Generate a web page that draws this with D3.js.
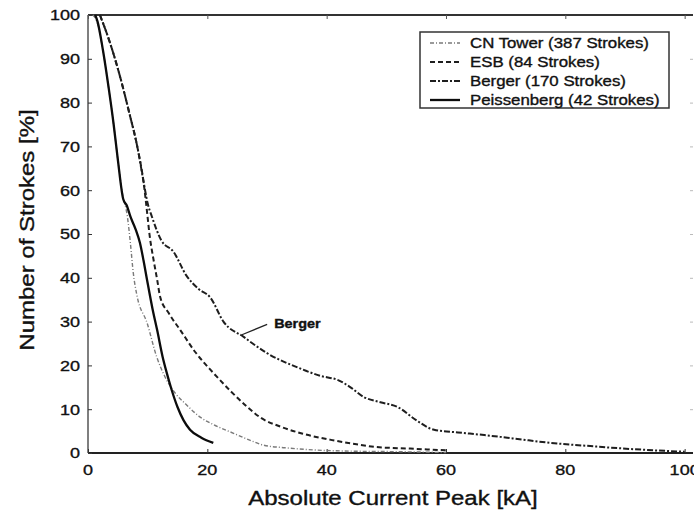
<!DOCTYPE html>
<html lang="en">
<head>
<meta charset="utf-8">
<script src="https://d3js.org/d3.v7.min.js"></script>
<style>
  body { margin: 0; background: #fff; }
  text { font-family: "Liberation Sans", Arial, sans-serif; fill: #111; stroke: #111; stroke-width: 0.35px; }
</style>
</head>
<body>
<script>
// values: [current kA, strokes %]
const cnTower = [[0.8,100],[1.5,98.5],[2.5,92],[3.5,83],[4.3,75],[5,67],[5.8,59],[6.6,54],[7.1,48],[7.6,41],[8.2,36],
  [9.9,29.7],[11.5,22],[12.9,17.4],[14.6,13.7],[16.5,11],[18.8,8.2],[21,6.5],[24.4,4.5],[27,3],[29.4,1.8],
  [33,1.2],[37.8,0.7],[45,0.4],[52,0.3],[60,0.1]];
const esb = [[2,100],[3.7,93.6],[5.4,85.8],[6.8,78.3],[8.4,69],[9.3,62],[9.9,55],[10.3,50],[11,44],[11.6,39.5],
  [12.1,35.6],[13.5,32],[15.5,28],[18,23],[21,18.3],[24,14],[26.7,10.5],[29,8],[32.3,6],[36,4.4],[40.7,3],
  [45,2],[48,1.4],[54,1],[60,0.6]];
const berger = [[2,100],[3.7,93.6],[5.4,85.8],[6.8,78.3],[8.4,69],[9.3,62],[10,57],[10.7,54],[12.3,48.5],[14.3,46],
  [16.5,40.5],[18.5,37.5],[20.5,35.5],[22.7,30],[26.1,26.5],[30,22.8],[35,19.6],[39,17.6],[42,16.6],[44,15],
  [46.2,12.8],[49,11.6],[51.9,10.5],[55,7.5],[58,5.3],[62,4.7],[66.4,4.1],[72,3.2],[77.6,2.3],[83,1.7],
  [88.9,1.1],[95,0.6],[100,0.3]];
const peissenberg = [[1.2,100],[1.6,98.5],[2.5,92],[3.5,83],[4.3,75],[5,67],[5.9,58],[6.5,56.5],[7.1,54],[8,51],
  [8.7,48],[9.3,44],[9.9,39.5],[10.8,33],[11.6,28],[12.5,22],[13.2,18.3],[14,14.5],[15,10.5],[16,7.5],
  [17.1,5.3],[19,3.5],[21,2.3]];

const seriesNames = ["CN Tower (387 Strokes)", "ESB (84 Strokes)", "Berger (170 Strokes)", "Peissenberg (42 Strokes)"];
const xTicks = [0, 20, 40, 60, 80, 100];
const yTicks = [0, 10, 20, 30, 40, 50, 60, 70, 80, 90, 100];
const bergerNote = {label: "Berger", at: [25.8, 27], text: [31.2, 29.6]};

const W = 694, H = 515;
const x = d3.scaleLinear().domain([0, 101.4]).range([88, 693]);
const y = d3.scaleLinear().domain([0, 100]).range([453, 15]);

const svg = d3.select("body").append("svg").attr("width", W).attr("height", H);

// scanned text is wider than Arial, stretch it a bit
function widen(sel, k) {
  sel.each(function () {
    const len = this.getComputedTextLength();
    d3.select(this).attr("textLength", len * k).attr("lengthAdjust", "spacingAndGlyphs");
  });
}

// frame
svg.append("line").attr("x1", x(0)).attr("x2", x(101.4)).attr("y1", y(100)).attr("y2", y(100))
  .attr("stroke", "#333").attr("stroke-width", 2);
svg.append("line").attr("x1", x(0)).attr("x2", x(101.4)).attr("y1", y(0)).attr("y2", y(0))
  .attr("stroke", "#222").attr("stroke-width", 2);
svg.append("line").attr("x1", x(0)).attr("x2", x(0)).attr("y1", y(0)).attr("y2", y(100))
  .attr("stroke", "#555").attr("stroke-width", 1.5);

// ticks (inward)
const yAxis = svg.append("g").attr("transform", `translate(${x(0)},0)`)
  .call(d3.axisRight(y).tickValues(yTicks).tickSize(4).tickFormat(""));
yAxis.select(".domain").remove();
yAxis.selectAll("line").attr("stroke", "#333");
const xAxis = svg.append("g").attr("transform", `translate(0,${y(0)})`)
  .call(d3.axisTop(x).tickValues(xTicks).tickSize(4).tickFormat(""));
xAxis.select(".domain").remove();
xAxis.selectAll("line").attr("stroke", "#333");
const xTop = svg.append("g").attr("transform", `translate(0,${y(100)})`)
  .call(d3.axisBottom(x).tickValues(xTicks).tickSize(4).tickFormat(""));
xTop.select(".domain").remove();
xTop.selectAll("line").attr("stroke", "#555");
const yRight = svg.append("g").attr("transform", `translate(693,0)`)
  .call(d3.axisLeft(y).tickValues(yTicks.slice(1, -1)).tickSize(3).tickFormat(""));
yRight.select(".domain").remove();
yRight.selectAll("line").attr("stroke", "#bbb");

// tick labels
svg.append("g").selectAll("text").data(yTicks).join("text")
  .attr("x", 80).attr("y", d => y(d)).attr("dy", "0.36em")
  .attr("text-anchor", "end").attr("font-size", 15).text(d => d)
  .call(widen, 1.2);
svg.append("g").selectAll("text").data(xTicks).join("text")
  .attr("x", d => x(d)).attr("y", y(0) + 17).attr("dy", "0.36em")
  .attr("text-anchor", "middle").attr("font-size", 15).text(d => d)
  .call(widen, 1.2);

// axis titles
svg.append("text").attr("x", 393).attr("y", 498).attr("dy", "0.36em")
  .attr("text-anchor", "middle").attr("font-size", 20).text("Absolute Current Peak [kA]")
  .call(widen, 1.2);
svg.append("text").attr("transform", "translate(27,230) rotate(-90)").attr("dy", "0.36em")
  .attr("text-anchor", "middle").attr("font-size", 20).text("Number of Strokes [%]")
  .call(widen, 1.2);

// curves
const styles = [
  {data: cnTower, stroke: "#7a7a7a", width: 1.4, dash: "4,2,1,2"},
  {data: esb, stroke: "#1e1e1e", width: 2, dash: "5,3"},
  {data: berger, stroke: "#1e1e1e", width: 2, dash: "6,2,2,2"},
  {data: peissenberg, stroke: "#0c0c0c", width: 2.3, dash: null}
];
const line = d3.line().x(d => x(d[0])).y(d => y(d[1])).curve(d3.curveMonotoneX);
svg.append("g").selectAll("path").data(styles).join("path")
  .attr("d", d => line(d.data))
  .attr("fill", "none")
  .attr("stroke", d => d.stroke)
  .attr("stroke-width", d => d.width)
  .attr("stroke-dasharray", d => d.dash);

// annotation
svg.append("line")
  .attr("x1", x(bergerNote.text[0]) - 7).attr("y1", y(bergerNote.text[1]) + 1)
  .attr("x2", x(bergerNote.at[0])).attr("y2", y(bergerNote.at[1]))
  .attr("stroke", "#222").attr("stroke-width", 1.3);
svg.append("text").attr("x", x(bergerNote.text[0])).attr("y", y(bergerNote.text[1]))
  .attr("dy", "0.36em").attr("font-size", 12).attr("font-weight", "bold").text(bergerNote.label)
  .call(widen, 1.2);

// legend
const legend = svg.append("g").attr("transform", "translate(420,32)");
legend.append("rect").attr("width", 249).attr("height", 76)
  .attr("fill", "#fff").attr("stroke", "#333").attr("stroke-width", 1.5);
const item = legend.selectAll("g").data(styles).join("g")
  .attr("transform", (d, i) => `translate(0,${11 + i * 19})`);
item.append("line").attr("x1", 10).attr("x2", 40).attr("y1", 0).attr("y2", 0)
  .attr("stroke", d => d.stroke).attr("stroke-width", d => d.width)
  .attr("stroke-dasharray", d => d.dash);
item.append("text").attr("x", 50).attr("dy", "0.36em").attr("font-size", 14)
  .text((d, i) => seriesNames[i])
  .call(widen, 1.2);
</script>
</body>
</html>
